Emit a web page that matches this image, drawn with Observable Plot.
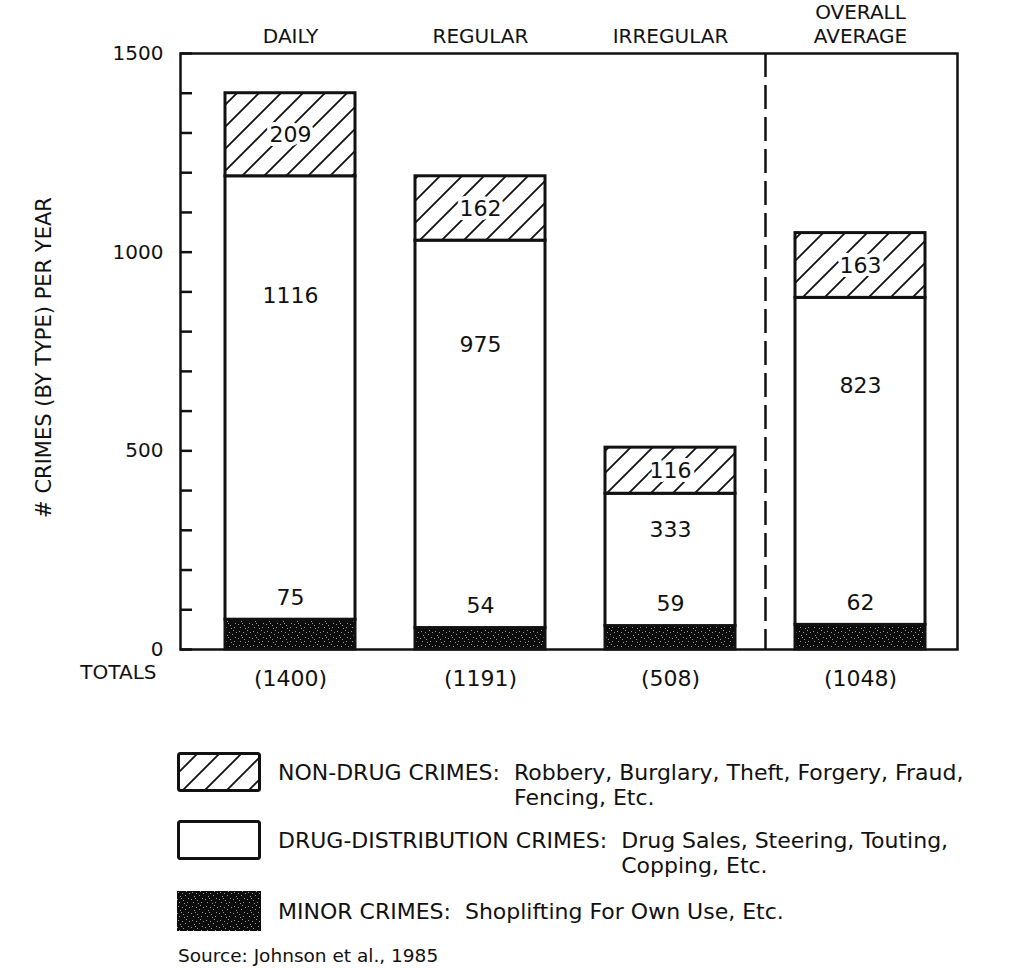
<!DOCTYPE html>
<html>
<head>
<meta charset="utf-8">
<script src="https://cdn.jsdelivr.net/npm/d3@7"></script>
<script src="https://cdn.jsdelivr.net/npm/@observablehq/plot@0.6"></script>
<style>
  body { margin: 0; background: #fff; }
  #wrap { position: relative; width: 1011px; height: 968px; overflow: hidden; background: #fff;
          font-family: "DejaVu Sans", sans-serif; color: #111; }
  .row { position: absolute; left: 177px; display: flex; align-items: flex-start; }
  .sw { flex: none; width: 84px; height: 40px; display: block; }
  .key { margin-left: 17px; font-size: 22px; line-height: 25px; white-space: pre; }
  .desc { margin-left: 14px; font-size: 22px; line-height: 25px; white-space: pre; }
  .src { position: absolute; left: 178px; top: 946px; font-size: 18.5px; line-height: 19px; white-space: pre; }
</style>
</head>
<body>
<div id="wrap"></div>
<script>
// ---- data ----
const categories = ["DAILY", "REGULAR", "IRREGULAR", "OVERALL\nAVERAGE"];
const minorCrimes = [75, 54, 59, 62];
const drugCrimes = [1116, 975, 333, 823];
const nonDrugCrimes = [209, 162, 116, 163];
const totals = [1400, 1191, 508, 1048];
const crimeTypes = ["minor", "drug", "nondrug"];
const yMinorTicks = d3.range(0, 1501, 100);
const yLabelTicks = [0, 500, 1000, 1500];
const yTitle = "# CRIMES (BY TYPE) PER YEAR";
const totalsTitle = "TOTALS";
const legendKeys = ["NON-DRUG CRIMES:", "DRUG-DISTRIBUTION CRIMES:", "MINOR CRIMES:"];
const legendDescs = [
  ["Robbery, Burglary, Theft, Forgery, Fraud,", "Fencing, Etc."],
  ["Drug Sales, Steering, Touting,", "Copping, Etc."],
  ["Shoplifting For Own Use, Etc."]
];
const sourceNote = "Source: Johnson et al., 1985";

// ---- long table ----
const seriesByType = {minor: minorCrimes, drug: drugCrimes, nondrug: nonDrugCrimes};
const rows = [];
categories.forEach((cat, i) => {
  let base = 0;
  for (const type of crimeTypes) {
    const value = seriesByType[type][i];
    rows.push({cat, type, value, base});
    base += value;
  }
});

const ink = "#111";
const plain = (d) => `${d}`;
const plot = Plot.plot({
  width: 1011,
  height: 700,
  marginLeft: 180,
  marginRight: 54,
  marginTop: 53,
  marginBottom: 51,
  style: {fontFamily: "DejaVu Sans", background: "white", color: ink},
  x: {domain: categories, range: [225, 925], paddingInner: 0.316, paddingOuter: 0, axis: null},
  y: {domain: [0, 1500], axis: null, label: null},
  color: {domain: crimeTypes, range: ["url(#speck)", "white", "url(#hatch)"]},
  marks: [
    Plot.barY(rows, Plot.stackY({x: "cat", y: "value", fill: "type", stroke: ink, strokeWidth: 3})),
    Plot.ruleX([categories[2]], {dx: 95, stroke: ink, strokeWidth: 2.5, strokeDasharray: "24,8"}),
    Plot.frame({stroke: ink, strokeWidth: 2.5}),
    Plot.axisY(yMinorTicks, {tickSize: -12, fill: "none", label: null, stroke: ink, strokeWidth: 2.5}),
    Plot.axisY(yLabelTicks, {tickSize: 0, tickPadding: 17, fontSize: 20, label: null, tickFormat: plain}),
    Plot.axisX({anchor: "top", tickSize: 0, tickPadding: 11, fontSize: 20, lineHeight: 1.18, label: null}),
    Plot.axisX({anchor: "bottom", tickSize: 0, tickPadding: 21, fontSize: 22, label: null,
      tickFormat: (d) => `(${totals[categories.indexOf(d)]})`}),
    Plot.text([totalsTitle], {frameAnchor: "bottom-left", textAnchor: "end", dx: -24, dy: 29, fontSize: 20}),
    Plot.text([yTitle], {frameAnchor: "left", textAnchor: "middle", rotate: -90, dx: -136, dy: 6, fontSize: 21}),
    // segment labels
    Plot.text(rows.filter((d) => d.type === "nondrug"), {
      x: "cat", y: (d) => d.base + 0.5 * d.value, text: (d) => plain(d.value), fontSize: 22,
      fill: ink, stroke: "white", strokeWidth: 8, paintOrder: "stroke"
    }),
    Plot.text(rows.filter((d) => d.type === "drug"), {
      x: "cat", y: (d) => d.base + 0.73 * d.value, text: (d) => plain(d.value), fontSize: 22, fill: ink
    }),
    Plot.text(rows.filter((d) => d.type === "minor"), {
      x: "cat", y: (d) => d.base + d.value, dy: -22, text: (d) => plain(d.value), fontSize: 22, fill: ink
    })
  ]
});

// ---- fill patterns ----
const specks = [[1,1],[5,2],[9,0],[3,5],[8,4],[11,7],[0,8],[6,9],[10,11],[2,11],[7,12],[12,2],[4,7]];
const defs = document.createElementNS("http://www.w3.org/2000/svg", "defs");
defs.innerHTML = `
  <pattern id="hatch" patternUnits="userSpaceOnUse" width="22" height="22">
    <rect width="22" height="22" fill="white"/>
    <path d="M-5.5,5.5 L5.5,-5.5 M0,22 L22,0 M16.5,27.5 L27.5,16.5" stroke="${ink}" stroke-width="1.8"/>
  </pattern>
  <pattern id="speck" patternUnits="userSpaceOnUse" width="14" height="14">
    <rect width="14" height="14" fill="#0c0c0c"/>
    ${specks.map(([x, y]) => `<rect x="${x}" y="${y}" width="1" height="1" fill="#9a9a9a"/>`).join("")}
  </pattern>`;
plot.insertBefore(defs, plot.firstChild);

const wrap = document.getElementById("wrap");
wrap.appendChild(plot);

// ---- legend (HTML below the chart) ----
const rowTops = [752, 820, 891];
const swatchFills = ["url(#hatch)", "white", "url(#speck)"];
const swatchStroke = [ink, ink, "none"];
legendKeys.forEach((key, i) => {
  const row = document.createElement("div");
  row.className = "row";
  row.style.top = rowTops[i] + "px";
  const s = swatchStroke[i] === "none"
    ? `<rect x="0" y="0" width="84" height="40" fill="${swatchFills[i]}"/>`
    : `<rect x="1.5" y="1.5" width="81" height="37" rx="2" fill="${swatchFills[i]}" stroke="${swatchStroke[i]}" stroke-width="3"/>`;
  row.innerHTML = `<svg class="sw" width="84" height="40" viewBox="0 0 84 40">${s}</svg>
    <div class="key" style="margin-top:8px">${key}</div>
    <div class="desc" style="margin-top:8px">${legendDescs[i].map((t) => `<div>${t}</div>`).join("")}</div>`;
  wrap.appendChild(row);
});
const src = document.createElement("div");
src.className = "src";
src.textContent = sourceNote;
wrap.appendChild(src);
</script>
</body>
</html>
